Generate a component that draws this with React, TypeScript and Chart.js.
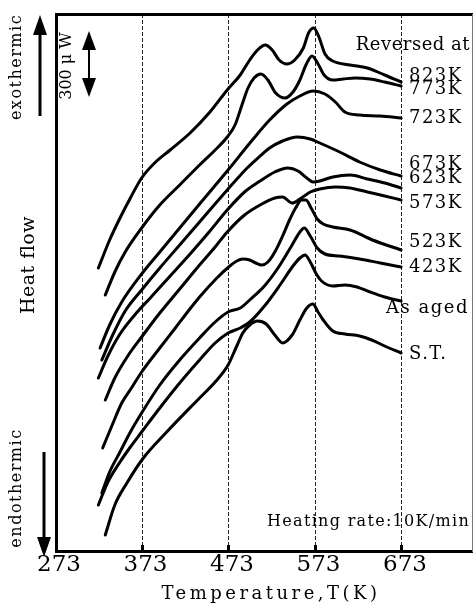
import { useEffect, useRef } from 'react';
import { Chart, registerables } from 'chart.js';

Chart.register(...registerables);

// ---- data (temperature in K, heat flow in arbitrary units, larger = exothermic) ----
const X_TICKS = [273, 373, 473, 573, 673];
const LABELS = ['823K', '773K', '723K', '673K', '623K', '573K', '523K', '423K', 'As aged', 'S.T.'];

const T_823 = [322, 335, 347, 359, 372, 387, 405, 428, 451, 471, 486, 497, 506, 515, 523, 531, 540, 549, 559, 565, 571, 577, 584, 593, 613, 633, 653, 672];
const V_823 = [283, 311, 333, 353, 373, 388, 401, 418, 439, 461, 476, 491, 501, 506, 501, 491, 487, 491, 503, 518, 523, 514, 497, 490, 486, 483, 476, 469];

const T_773 = [330, 341, 353, 372, 393, 416, 439, 457, 471, 480, 488, 495, 502, 510, 518, 527, 538, 547, 555, 562, 569, 576, 583, 593, 605, 619, 636, 653, 672];
const V_773 = [256, 279, 299, 323, 346, 366, 386, 401, 414, 426, 446, 463, 473, 477, 471, 458, 453, 459, 471, 486, 495, 487, 476, 471, 472, 473, 472, 469, 465];

const T_723 = [324, 335, 349, 372, 393, 416, 439, 471, 501, 520, 540, 555, 570, 584, 596, 607, 624, 648, 672];
const V_723 = [203, 226, 249, 277, 299, 323, 347, 380, 412, 431, 447, 455, 460, 457, 449, 439, 436, 435, 433];

const T_673 = [326, 338, 353, 372, 393, 416, 439, 471, 494, 509, 520, 535, 552, 567, 578, 601, 624, 648, 672];
const V_673 = [191, 215, 240, 261, 283, 306, 329, 361, 383, 395, 403, 410, 414, 412, 408, 399, 389, 381, 375];

const T_623 = [322, 333, 347, 368, 382, 405, 428, 451, 471, 491, 509, 526, 541, 553, 563, 570, 578, 593, 613, 633, 653, 672];
const V_623 = [173, 195, 217, 240, 253, 275, 297, 320, 341, 359, 370, 379, 383, 380, 373, 369, 370, 374, 376, 372, 368, 363];

const T_573 = [330, 341, 356, 372, 393, 416, 439, 457, 471, 491, 511, 526, 535, 546, 555, 567, 578, 596, 613, 633, 653, 672];
const V_573 = [151, 173, 195, 214, 238, 262, 286, 304, 319, 336, 347, 353, 354, 348, 352, 359, 362, 364, 363, 359, 355, 351];

const T_523 = [327, 338, 349, 361, 372, 393, 411, 426, 439, 459, 474, 482, 489, 497, 504, 511, 518, 526, 535, 543, 550, 557, 562, 568, 575, 582, 593, 613, 639, 672];
const V_523 = [103, 126, 148, 164, 179, 203, 223, 240, 254, 273, 285, 290, 292, 291, 288, 286, 289, 299, 315, 331, 343, 351, 351, 343, 332, 327, 324, 321, 311, 301];

const T_423 = [326, 335, 347, 359, 372, 393, 416, 439, 457, 472, 486, 497, 515, 532, 546, 555, 560, 567, 575, 584, 601, 624, 648, 672];
const V_423 = [58, 79, 99, 119, 138, 166, 191, 213, 229, 239, 243, 251, 266, 286, 306, 319, 323, 315, 303, 297, 295, 292, 288, 284];

const T_AGED = [322, 333, 347, 359, 372, 393, 416, 439, 457, 472, 486, 497, 515, 532, 547, 555, 561, 567, 574, 580, 593, 607, 621, 636, 653, 672];
const V_AGED = [46, 69, 89, 104, 119, 143, 168, 191, 208, 218, 223, 229, 246, 266, 285, 293, 296, 289, 277, 270, 265, 266, 264, 259, 254, 250];

const T_ST = [330, 341, 355, 374, 401, 439, 457, 472, 481, 489, 497, 506, 516, 526, 535, 546, 555, 563, 570, 576, 582, 593, 607, 624, 638, 653, 672];
const V_ST = [16, 46, 68, 93, 119, 153, 169, 186, 203, 218, 226, 230, 227, 216, 208, 216, 231, 243, 247, 239, 231, 220, 217, 215, 211, 205, 198];

const SERIES_T = [T_823, T_773, T_723, T_673, T_623, T_573, T_523, T_423, T_AGED, T_ST];
const SERIES_V = [V_823, V_773, V_723, V_673, V_623, V_573, V_523, V_423, V_AGED, V_ST];

// label anchor heights (same units as the heat-flow values)
const LABEL_V = [475, 462, 433, 387, 373, 348, 309, 284, 243, 197];
const HEADER_V = 506;

const SERIF = '"DejaVu Serif", "Liberation Serif", serif';

function arrow(ctx: CanvasRenderingContext2D, x: number, yTail: number, yTip: number, headLen: number, half: number, lw: number) {
  const dir = Math.sign(yTip - yTail);
  ctx.beginPath();
  ctx.moveTo(x, yTail);
  ctx.lineTo(x, yTip - dir * headLen * 0.7);
  ctx.lineWidth = lw;
  ctx.stroke();
  ctx.beginPath();
  ctx.moveTo(x, yTip);
  ctx.lineTo(x - half, yTip - dir * headLen);
  ctx.lineTo(x + half, yTip - dir * headLen);
  ctx.closePath();
  ctx.fill();
}

function vText(ctx: CanvasRenderingContext2D, text: string, cx: number, cy: number, size: number, spacing: number) {
  ctx.save();
  ctx.translate(cx, cy);
  ctx.rotate(-Math.PI / 2);
  ctx.font = `${size}px ${SERIF}`;
  (ctx as any).letterSpacing = `${spacing}px`;
  ctx.textAlign = 'center';
  ctx.textBaseline = 'middle';
  ctx.fillText(text, 0, 0);
  ctx.restore();
}

function hText(ctx: CanvasRenderingContext2D, text: string, x: number, y: number, size: number, spacing: number, align: CanvasTextAlign = 'left') {
  ctx.save();
  ctx.font = `${size}px ${SERIF}`;
  (ctx as any).letterSpacing = `${spacing}px`;
  ctx.textAlign = align;
  ctx.textBaseline = 'middle';
  ctx.fillText(text, x, y);
  ctx.restore();
}

const overlay = {
  id: 'overlay',
  afterDraw(chart: any) {
    const { ctx, chartArea, scales } = chart;
    const xs = scales.x;
    const ys = scales.y;
    ctx.save();
    ctx.fillStyle = '#000';
    ctx.strokeStyle = '#000';

    // left side annotations
    vText(ctx, 'exothermic', 17, 67, 16, 1.5);
    arrow(ctx, 40, 116, 15, 20, 7, 3);
    vText(ctx, 'endothermic', 17, 488, 16, 1.5);
    arrow(ctx, 44, 452, 557, 20, 7, 3);
    vText(ctx, 'Heat flow', 29, 265, 19, 0.5);

    // scale bar
    vText(ctx, '300 \u03bc W', chartArea.left + 11, 66, 16, 0);
    ctx.save();
    ctx.lineWidth = 2;
    const bx = chartArea.left + 33;
    ctx.beginPath();
    ctx.moveTo(bx, 45);
    ctx.lineTo(bx, 84);
    ctx.stroke();
    ctx.beginPath();
    ctx.moveTo(bx, 31); ctx.lineTo(bx - 7, 50); ctx.lineTo(bx + 7, 50); ctx.closePath(); ctx.fill();
    ctx.beginPath();
    ctx.moveTo(bx, 97); ctx.lineTo(bx - 7, 78); ctx.lineTo(bx + 7, 78); ctx.closePath(); ctx.fill();
    ctx.restore();

    // right side labels
    const lx = xs.getPixelForValue(673) + 7;
    hText(ctx, 'Reversed at', chartArea.right - 2, ys.getPixelForValue(HEADER_V), 18, 0.5, 'right');
    LABELS.forEach((lab, i) => {
      const y = ys.getPixelForValue(LABEL_V[i]);
      if (lab === 'As aged') hText(ctx, lab, chartArea.right - 3, y, 18, 1.5, 'right');
      else hText(ctx, lab, lx, y, 18, 1.5);
    });

    hText(ctx, 'Heating rate:10K/min', chartArea.right - 2, chartArea.bottom - 29, 16, 1.3, 'right');

    // x axis title
    hText(ctx, 'Temperature,T(K)', (chartArea.left + chartArea.right) / 2 + 7, 594, 18, 3.5, 'center');
    ctx.restore();
  },
};

const hideFirst = (c: any, col: string) => (c.tick && c.tick.value === 273 ? 'rgba(0,0,0,0)' : col);

export default function App() {
  const ref = useRef<HTMLCanvasElement | null>(null);

  useEffect(() => {
    const canvas = ref.current;
    if (!canvas) return;
    const datasets = SERIES_T.map((ts, i) => ({
      label: LABELS[i],
      data: ts.map((t, j) => ({ x: t, y: SERIES_V[i][j] })),
      borderColor: '#000',
      backgroundColor: '#000',
      borderWidth: 3,
      pointRadius: 0,
      fill: false,
      cubicInterpolationMode: 'monotone' as const,
      borderCapStyle: 'round' as const,
      borderJoinStyle: 'round' as const,
    }));

    const chart = new Chart(canvas, {
      type: 'line',
      data: { datasets },
      options: {
        animation: false,
        responsive: false,
        devicePixelRatio: 1,
        layout: { padding: { top: 14, right: 1, left: 0, bottom: 0 } },
        plugins: { legend: { display: false }, tooltip: { enabled: false } },
        scales: {
          x: {
            type: 'linear',
            position: 'bottom',
            min: 273,
            max: 754,
            afterBuildTicks: (s: any) => { s.ticks = X_TICKS.map((v) => ({ value: v })); },
            afterFit: (s: any) => { s.height = 56; },
            ticks: {
              font: { family: SERIF, size: 23 },
              color: '#000',
              padding: 6,
              maxRotation: 0,
              autoSkip: false,
              labelOffset: 3,
            },
            grid: {
              color: (c: any) => hideFirst(c, '#222'),
              lineWidth: 1,
              drawTicks: true,
              tickLength: -6,
              tickWidth: 3,
              tickColor: (c: any) => hideFirst(c, '#000'),
              tickBorderDash: [],
            },
            border: { display: true, color: '#000', width: 3, dash: [4, 2] },
          },
          x2: {
            type: 'linear',
            axis: 'x',
            position: 'top',
            min: 273,
            max: 754,
            ticks: { display: false },
            grid: { display: false, drawTicks: false },
            border: { display: true, color: '#000', width: 3 },
            afterFit: (s: any) => { s.height = 0; },
          },
          y: {
            type: 'linear',
            position: 'left',
            min: 0,
            max: 537,
            ticks: { display: false },
            grid: { display: false, drawTicks: false },
            border: { display: true, color: '#000', width: 3 },
            afterFit: (s: any) => { s.width = 56; },
          },
          y2: {
            type: 'linear',
            axis: 'y',
            position: 'right',
            min: 0,
            max: 537,
            ticks: { display: false },
            grid: { display: false, drawTicks: false },
            border: { display: true, color: '#777', width: 1 },
            afterFit: (s: any) => { s.width = 0; },
          },
        },
      },
      plugins: [overlay],
    } as any);
    return () => chart.destroy();
  }, []);

  return (
    <div style={{ position: 'fixed', left: 0, top: 0, width: 473, height: 607, background: '#fff' }}>
      <canvas ref={ref} width={473} height={607} style={{ display: 'block', width: 473, height: 607 }} />
    </div>
  );
}
